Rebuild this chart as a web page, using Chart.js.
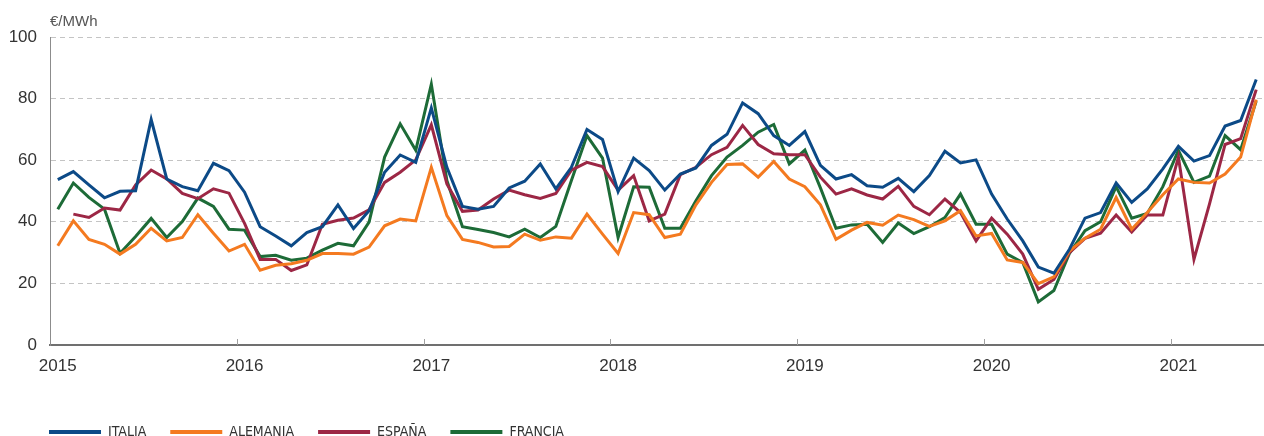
<!DOCTYPE html>
<html>
<head>
<meta charset="utf-8">
<script src="https://cdn.jsdelivr.net/npm/chart.js@4.4.0/dist/chart.umd.min.js"></script>
<style>
html, body { margin: 0; padding: 0; background: #fff; overflow: hidden; }
#wrap { position: relative; width: 1264px; height: 436px; overflow: hidden; }
#unit { position: absolute; left: 50px; top: 12px; font: 15px 'Liberation Sans', Arial, sans-serif; color: #555; }
canvas { position: absolute; left: 0; top: 0; }
</style>
</head>
<body>
<div id="wrap">
  <canvas id="chart" width="1264" height="449"></canvas>
  <div id="unit">€/MWh</div>
</div>
<script>
// Monthly prices, Jan 2015 - Jun 2021 (€/MWh)
var years = ['2015', '2016', '2017', '2018', '2019', '2020', '2021'];
var months = ['01', '02', '03', '04', '05', '06', '07', '08', '09', '10', '11', '12'];
var yTicks = [0, 20, 40, 60, 80, 100];

var italia = [
    53.7, 56.3, 52.0, 47.8, 49.9, 50.1, 73.2, 53.9, 51.4, 50.1, 59.0, 56.6,
    49.6, 38.4, 35.4, 32.2, 36.5, 38.4, 45.5, 37.8, 43.6, 56.1, 61.7, 59.3,
    77.0, 57.7, 45.0, 44.1, 45.0, 51.0, 53.2, 58.8, 50.7, 57.7, 70.0, 66.7,
    49.8, 60.7, 56.6, 50.3, 55.5, 57.5, 64.8, 68.4, 78.6, 75.1, 68.0, 64.8,
    69.3, 58.3, 53.9, 55.3, 51.7, 51.2, 54.1, 49.8, 55.0, 62.9, 59.1, 60.1,
    49.0, 40.9, 33.8, 25.3, 23.3, 31.1, 41.2, 43.0, 52.6, 46.3, 50.7, 57.2,
    64.5, 59.7, 61.5, 71.1, 72.9, 86.2
];
var alemania = [
    32.2, 40.3, 34.3, 32.7, 29.5, 32.7, 37.9, 33.8, 34.9, 42.3, 36.3, 30.5,
    32.7, 24.3, 25.9, 26.4, 27.5, 29.7, 29.7, 29.5, 31.8, 38.7, 40.9, 40.3,
    57.7, 42.0, 34.3, 33.3, 31.8, 32.0, 36.0, 34.0, 35.1, 34.7, 42.5, 36.0,
    29.7, 43.0, 42.3, 34.9, 36.0, 45.5, 52.8, 58.6, 58.8, 54.5, 59.6, 53.9,
    51.4, 45.5, 34.3, 37.3, 39.8, 38.9, 42.2, 40.7, 38.5, 40.3, 43.6, 35.4,
    36.2, 27.6, 26.8, 19.9, 22.1, 30.5, 34.7, 37.6, 47.9, 37.6, 43.0, 48.8,
    53.9, 52.8, 52.6, 55.5, 61.0, 79.7
];
var espana = [
    null, 42.5, 41.4, 44.5, 43.8, 52.0, 56.8, 53.9, 49.2, 47.5, 50.7, 49.3,
    39.5, 27.8, 27.8, 24.2, 26.0, 39.2, 40.5, 41.2, 43.9, 52.8, 56.1, 60.1,
    71.5, 52.3, 43.4, 43.8, 47.4, 50.3, 48.8, 47.6, 49.2, 56.8, 59.3, 57.9,
    50.3, 55.0, 40.3, 42.5, 55.3, 57.7, 61.8, 64.2, 71.3, 65.1, 62.1, 61.8,
    61.8, 54.5, 49.0, 50.7, 48.7, 47.4, 51.5, 45.0, 42.3, 47.4, 43.0, 33.8,
    41.2, 36.0, 29.5, 18.1, 21.3, 30.0, 34.6, 36.3, 42.2, 36.7, 42.2, 42.2,
    61.0, 27.8, 45.8, 65.1, 67.0, 82.9
];
var francia = [
    44.1, 52.6, 47.9, 44.1, 29.8, 35.2, 41.1, 34.9, 40.1, 47.7, 45.0, 37.6,
    37.3, 28.7, 29.1, 27.5, 28.2, 30.8, 33.0, 32.2, 39.9, 61.0, 71.8, 63.2,
    84.7, 53.4, 38.4, 37.5, 36.5, 35.1, 37.6, 34.9, 38.5, 53.4, 68.0, 60.7,
    34.9, 51.4, 51.2, 37.9, 37.9, 46.8, 55.0, 61.0, 64.8, 69.1, 71.6, 58.8,
    63.3, 51.0, 37.9, 39.0, 39.2, 33.3, 39.6, 36.2, 38.4, 41.4, 49.0, 39.2,
    39.2, 29.5, 26.8, 14.0, 17.7, 29.7, 37.1, 40.0, 51.4, 41.2, 42.7, 51.4,
    63.2, 52.8, 54.8, 68.0, 63.4, 79.2
];

// month labels "2015-01" ... up to the last value
var labels = [];
years.forEach(function(y){
    months.forEach(function(m){ labels.push(y + '-' + m); });
});
labels = labels.slice(0, italia.length);

var font = "'Liberation Sans', Arial, sans-serif";

// short upward tick marks at the start of each year
var yearTicks = {
    id: 'yearTicks',
    afterLayout: function(chart){
        // legend starts in line with the plot, not the canvas edge
        chart.legend.left += 25;
    },
    afterDatasetsDraw: function(chart){
        var x = chart.scales.x, c = chart.ctx;
        var bottom = chart.chartArea.bottom;
        c.save();
        c.strokeStyle = '#a0a0a0';
        c.lineWidth = 1;
        for (var i = 12; i < labels.length; i += 12) {
            var px = Math.round((x.getPixelForValue(i - 1) + x.getPixelForValue(i)) / 2) + 0.5;
            c.beginPath();
            c.moveTo(px, bottom);
            c.lineTo(px, bottom - 6);
            c.stroke();
        }
        c.restore();
    }
};

function ds(label, data, color){
    return {
        label: label,
        data: data,
        borderColor: color,
        backgroundColor: color,
        borderWidth: 3,
        pointRadius: 0,
        tension: 0
    };
}

var chart = new Chart(document.getElementById('chart'), {
    type: 'line',
    data: {
        labels: labels,
        datasets: [
            ds('ITALIA', italia, '#0c4a87'),
            ds('ALEMANIA', alemania, '#f47a20'),
            ds('ESPAÑA', espana, '#9c2745'),
            ds('FRANCIA', francia, '#1d6b37')
        ]
    },
    options: {
        responsive: false,
        animation: false,
        devicePixelRatio: 1,
        layout: { padding: { left: 0, top: 37, right: 0, bottom: 0 } },
        plugins: {
            tooltip: { enabled: false },
            legend: {
                position: 'bottom',
                align: 'start',
                labels: {
                    boxWidth: 52,
                    boxHeight: 4,
                    padding: 24,
                    color: '#333',
                    font: { family: "'Liberation Sans Narrow', 'DejaVu Sans Condensed', sans-serif", size: 14 },
                    generateLabels: function(c){
                        return Chart.defaults.plugins.legend.labels.generateLabels(c).map(function(l){
                            l.lineWidth = 0;
                            return l;
                        });
                    }
                }
            }
        },
        scales: {
            x: {
                type: 'category',
                offset: true,
                grid: { display: false },
                border: { display: true, color: '#707070', width: 2 },
                ticks: {
                    autoSkip: false,
                    maxRotation: 0,
                    padding: 3,
                    color: '#333',
                    font: { family: font, size: 17 },
                    callback: function(value){
                        var l = this.getLabelForValue(value);
                        return l.slice(5) === '01' ? l.slice(0, 4) : '';
                    }
                },
                afterFit: function(s){ s.height = 56; }
            },
            y: {
                min: 0,
                max: 100,
                afterFit: function(s){ s.width = 50; },
                afterBuildTicks: function(s){
                    s.ticks = yTicks.map(function(v){ return { value: v }; });
                },
                grid: {
                    drawTicks: false,
                    lineWidth: 1,
                    color: function(ctx){ return ctx.tick && ctx.tick.value === 0 ? 'rgba(0,0,0,0)' : '#c4c4c4'; }
                },
                border: { display: true, color: '#8c8c8c', width: 1, dash: [5, 4] },
                ticks: {
                    padding: 13,
                    color: '#333',
                    font: { family: font, size: 17 }
                }
            }
        }
    },
    plugins: [yearTicks]
});
</script>
</body>
</html>
